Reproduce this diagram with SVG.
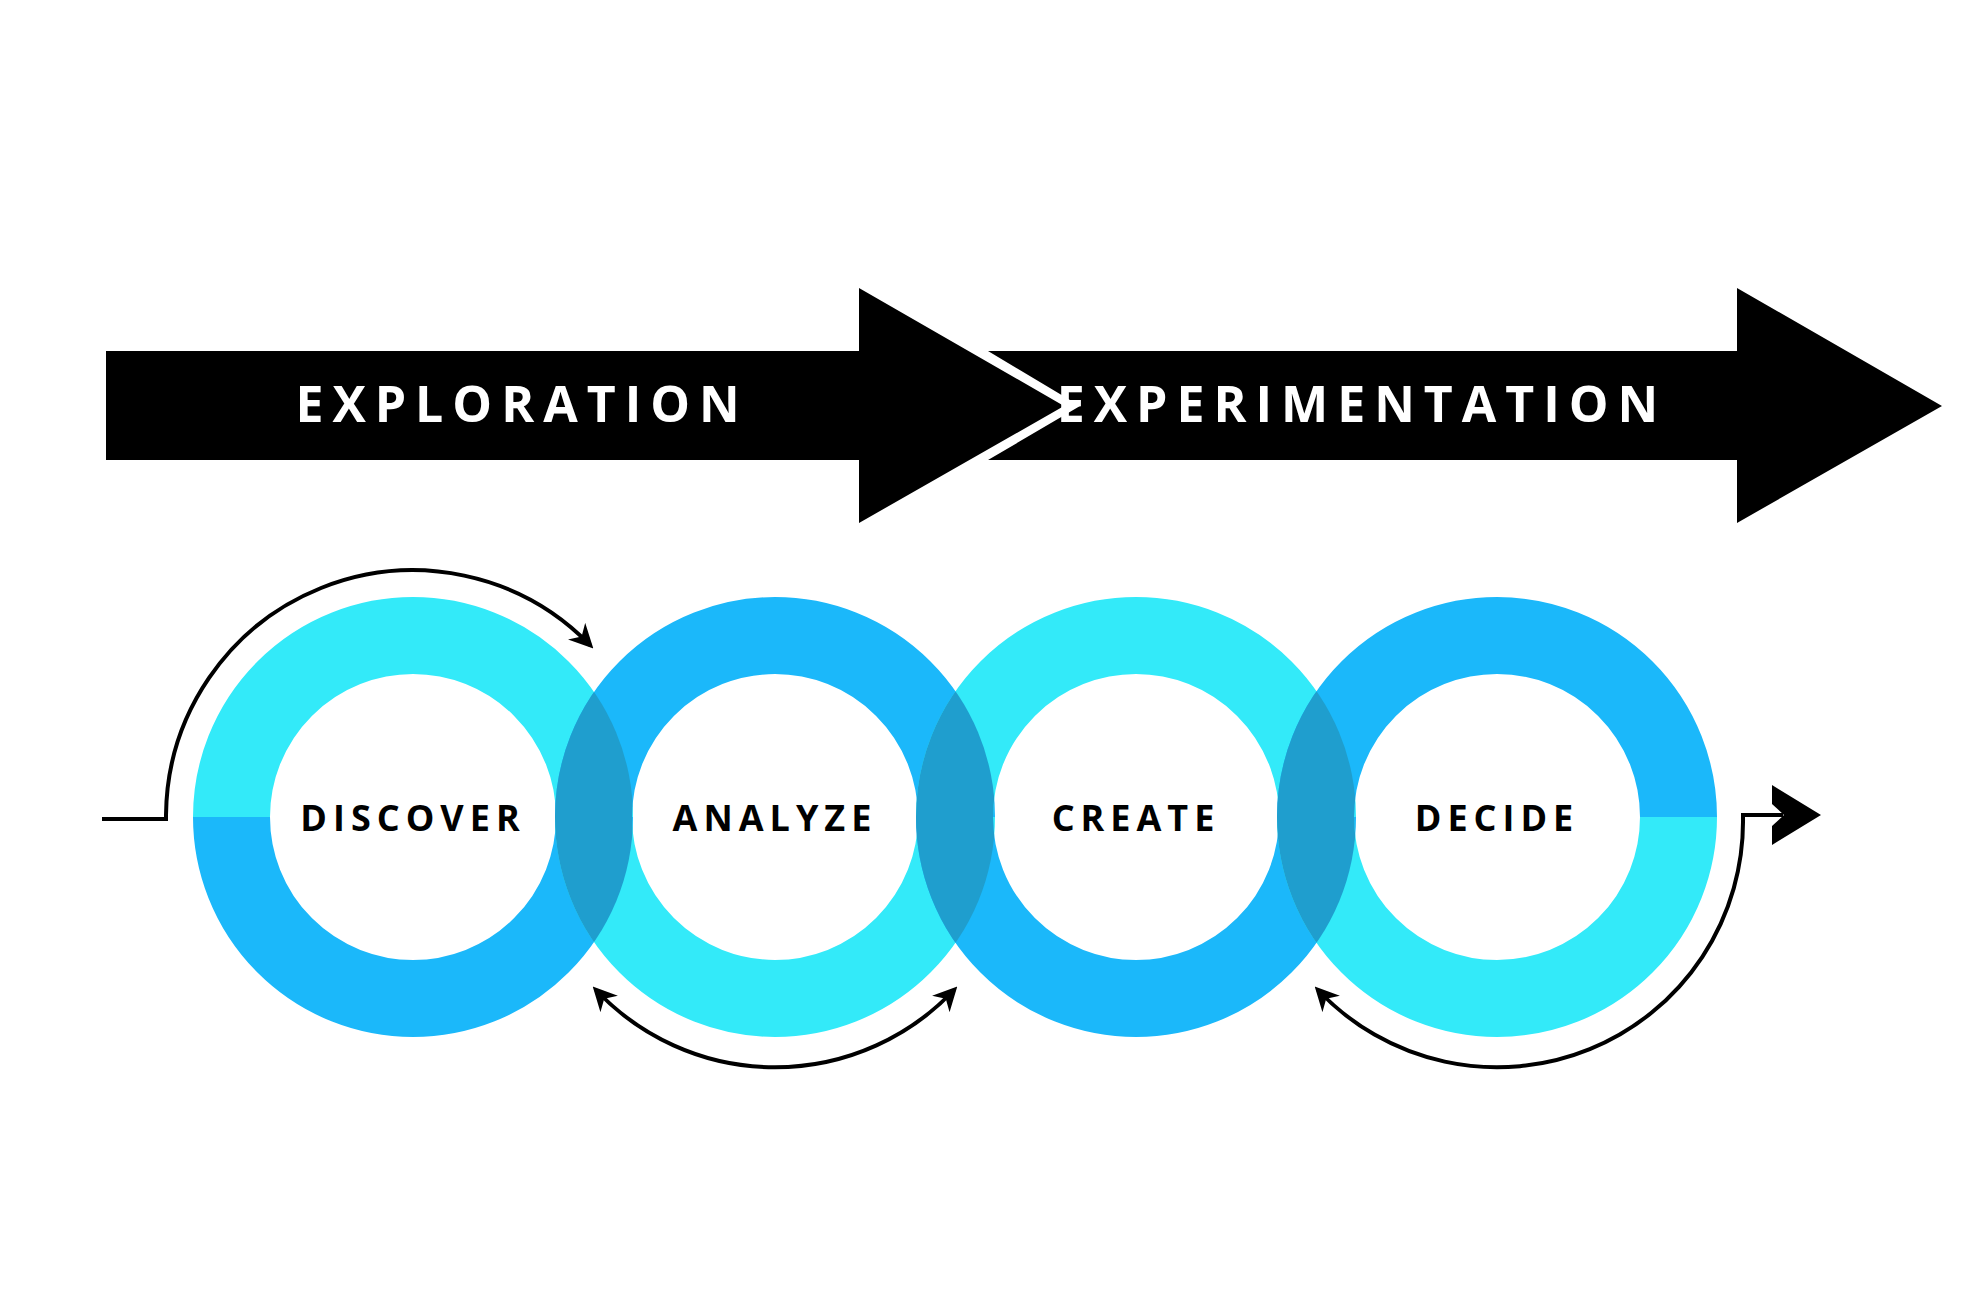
<svg xmlns="http://www.w3.org/2000/svg" width="1971" height="1307" viewBox="0 0 1971 1307">
<style>
.lbl{font-family:"Open Sans","Liberation Sans",sans-serif;font-weight:bold;text-anchor:middle;dominant-baseline:central}
.ph{fill:#fff;font-size:50px;letter-spacing:9px}
.nd{fill:#000;font-size:36px;letter-spacing:6px}
.cy{fill:none;stroke:#33EAF9;stroke-width:77}
.bl{fill:none;stroke:#1BB8FA;stroke-width:77}
.dk{fill:none;stroke:#1F9ECE;stroke-width:77}
.con{fill:none;stroke:#000;stroke-width:4}
</style>
<defs>
<marker id="ah" viewBox="0 0 10 10" refX="8" refY="5" markerWidth="6" markerHeight="6" orient="auto-start-reverse" markerUnits="strokeWidth"><path d="M0,0L10,5L0,10L3,5z" fill="#000"/></marker>
<clipPath id="d1"><circle cx="413" cy="817" r="220"/></clipPath>
<clipPath id="d2"><circle cx="775" cy="817" r="220"/></clipPath>
<clipPath id="d3"><circle cx="1136" cy="817" r="220"/></clipPath>
</defs>
<g id="exploration">
<polygon points="106,351 859,351 859,288 1064,406 859,523 859,460 106,460" fill="#000"/>
<text class="lbl ph" x="522" y="403">EXPLORATION</text>
</g>
<g id="experimentation">
<polygon points="988,351 1737,351 1737,288 1942,406 1737,523 1737,460 988,460 1080,406" fill="#000"/>
<text class="lbl ph" x="1362" y="403">EXPERIMENTATION</text>
</g>
<g id="discover">
<path class="cy" d="M231.5,817A181.5,181.5 0 0 1 594.5,817"/>
<path class="bl" d="M231.5,817A181.5,181.5 0 0 0 594.5,817"/>
<text class="lbl nd" x="413" y="817">DISCOVER</text>
</g>
<g id="analyze">
<path class="bl" d="M593.5,817A181.5,181.5 0 0 1 956.5,817"/>
<path class="cy" d="M593.5,817A181.5,181.5 0 0 0 956.5,817"/>
<circle class="dk" cx="775" cy="817" r="181.5" clip-path="url(#d1)"/>
<text class="lbl nd" x="775" y="817">ANALYZE</text>
</g>
<g id="create">
<path class="cy" d="M954.5,817A181.5,181.5 0 0 1 1317.5,817"/>
<path class="bl" d="M954.5,817A181.5,181.5 0 0 0 1317.5,817"/>
<circle class="dk" cx="1136" cy="817" r="181.5" clip-path="url(#d2)"/>
<text class="lbl nd" x="1136" y="817">CREATE</text>
</g>
<g id="decide">
<path class="bl" d="M1315.5,817A181.5,181.5 0 0 1 1678.5,817"/>
<path class="cy" d="M1315.5,817A181.5,181.5 0 0 0 1678.5,817"/>
<circle class="dk" cx="1497" cy="817" r="181.5" clip-path="url(#d3)"/>
<text class="lbl nd" x="1497" y="817">DECIDE</text>
</g>
<g id="connectors">
<path class="con" marker-end="url(#ah)" d="M102,819H166V815A247,247 0 0 1 590,645"/>
<path class="con" marker-start="url(#ah)" marker-end="url(#ah)" d="M596,990A246,246 0 0 0 954,990"/>
<path class="con" marker-start="url(#ah)" d="M1318,990A246,246 0 0 0 1743,817V815H1783"/>
<polygon points="1772,785 1821,815 1772,845 1772,826 1784,815 1772,804" fill="#000"/>
</g>
</svg>
